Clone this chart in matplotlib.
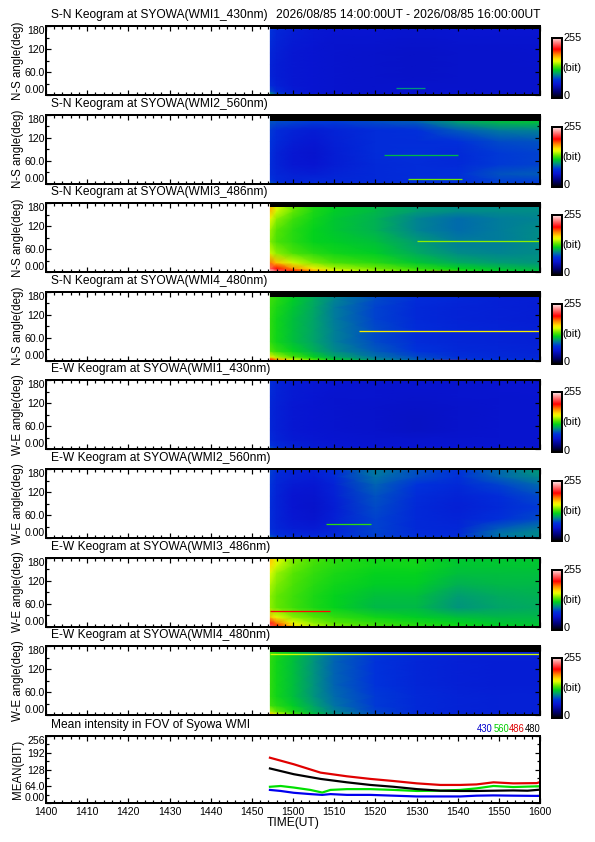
import numpy as np
import matplotlib
matplotlib.use("Agg")
import matplotlib.pyplot as plt
from matplotlib.colors import LinearSegmentedColormap, Normalize
from matplotlib.ticker import FixedLocator, MultipleLocator

plt.rcParams['font.family'] = ['Liberation Sans', 'DejaVu Sans']

# ---------------- data ----------------
header_right = "2026/08/85 14:00:00UT - 2026/08/85 16:00:00UT"
panel_titles = [
    "S-N Keogram at SYOWA(WMI1_430nm)",
    "S-N Keogram at SYOWA(WMI2_560nm)",
    "S-N Keogram at SYOWA(WMI3_486nm)",
    "S-N Keogram at SYOWA(WMI4_480nm)",
    "E-W Keogram at SYOWA(WMI1_430nm)",
    "E-W Keogram at SYOWA(WMI2_560nm)",
    "E-W Keogram at SYOWA(WMI3_486nm)",
    "E-W Keogram at SYOWA(WMI4_480nm)",
]
ylabels = ["N-S angle(deg)"] * 4 + ["W-E angle(deg)"] * 4

# keogram nodes: minutes after 14:00 UT, angle in degrees
t_nodes = [54.5, 56, 60, 65, 70, 80, 90, 100, 110, 120]
a_nodes = [0, 4, 10, 25, 50, 80, 110, 140, 160, 180]

keo_sn430 = [
    [115, 88, 68, 60, 58, 56, 56, 58, 56, 56],
    [100, 78, 64, 58, 56, 55, 55, 56, 55, 55],
    [82, 70, 60, 56, 55, 54, 54, 55, 54, 54],
    [70, 64, 58, 56, 55, 54, 54, 54, 54, 54],
    [66, 62, 58, 56, 55, 54, 53, 54, 54, 54],
    [66, 62, 58, 56, 55, 54, 53, 54, 54, 55],
    [68, 64, 58, 56, 55, 54, 53, 54, 54, 55],
    [72, 66, 60, 57, 55, 55, 54, 55, 55, 55],
    [75, 68, 62, 58, 56, 56, 55, 56, 56, 56],
    [75, 68, 62, 58, 56, 56, 55, 56, 56, 56],
]
keo_sn560 = [
    [88, 78, 72, 72, 72, 75, 80, 76, 82, 80],
    [82, 74, 68, 70, 70, 72, 75, 74, 80, 78],
    [76, 70, 66, 68, 68, 70, 72, 72, 80, 80],
    [72, 68, 64, 62, 66, 70, 72, 74, 84, 86],
    [72, 66, 58, 56, 62, 70, 72, 70, 78, 80],
    [74, 66, 58, 55, 62, 72, 74, 70, 78, 80],
    [76, 70, 62, 58, 64, 72, 72, 74, 82, 84],
    [78, 72, 66, 62, 66, 72, 74, 86, 94, 96],
    [84, 82, 80, 78, 78, 82, 86, 102, 110, 112],
    [84, 82, 80, 78, 78, 82, 86, 102, 110, 112],
]
keo_sn486 = [
    [250, 240, 220, 190, 165, 150, 140, 130, 120, 115],
    [245, 225, 200, 175, 155, 142, 132, 124, 116, 112],
    [225, 205, 180, 160, 145, 136, 126, 118, 112, 108],
    [185, 170, 150, 138, 130, 124, 114, 106, 102, 100],
    [150, 140, 130, 124, 120, 116, 106, 98, 96, 98],
    [138, 130, 124, 118, 116, 112, 102, 94, 94, 98],
    [142, 132, 124, 118, 114, 108, 96, 90, 94, 98],
    [155, 140, 128, 120, 114, 108, 96, 90, 94, 96],
    [172, 150, 134, 122, 116, 110, 102, 98, 98, 98],
    [175, 152, 134, 122, 116, 110, 102, 98, 98, 98],
]
keo_sn480 = [
    [235, 210, 180, 150, 130, 108, 92, 82, 78, 76],
    [200, 175, 150, 130, 115, 98, 86, 78, 74, 72],
    [160, 145, 130, 118, 106, 92, 82, 74, 70, 68],
    [132, 126, 118, 108, 98, 86, 76, 70, 68, 66],
    [125, 120, 112, 104, 95, 82, 72, 68, 66, 64],
    [125, 120, 112, 104, 95, 82, 72, 68, 66, 64],
    [125, 120, 112, 104, 94, 80, 70, 66, 64, 62],
    [126, 122, 114, 105, 94, 80, 70, 66, 64, 62],
    [128, 124, 116, 106, 96, 82, 72, 68, 64, 62],
    [128, 124, 116, 106, 96, 82, 72, 68, 64, 62],
]
keo_ew430 = [
    [95, 80, 70, 65, 62, 60, 60, 60, 60, 60],
    [85, 75, 66, 62, 60, 58, 58, 58, 58, 58],
    [75, 70, 64, 60, 58, 56, 56, 56, 56, 56],
    [70, 66, 60, 58, 56, 55, 55, 55, 55, 55],
    [68, 64, 58, 56, 55, 54, 52, 54, 55, 55],
    [68, 64, 58, 56, 55, 54, 52, 54, 55, 55],
    [68, 64, 58, 56, 55, 54, 53, 54, 55, 55],
    [70, 65, 60, 57, 55, 55, 54, 55, 55, 56],
    [72, 66, 60, 58, 56, 55, 55, 55, 56, 56],
    [72, 66, 60, 58, 56, 55, 55, 55, 56, 56],
]
keo_ew560 = [
    [92, 82, 76, 72, 75, 82, 78, 75, 88, 92],
    [86, 78, 72, 70, 72, 80, 75, 72, 90, 96],
    [78, 72, 68, 66, 70, 80, 72, 70, 92, 98],
    [72, 68, 62, 60, 66, 80, 70, 68, 86, 94],
    [72, 66, 58, 55, 64, 80, 70, 66, 74, 82],
    [72, 66, 56, 54, 62, 82, 70, 64, 70, 78],
    [74, 66, 56, 55, 64, 84, 72, 66, 72, 82],
    [76, 68, 60, 58, 66, 88, 76, 70, 80, 90],
    [78, 70, 64, 62, 70, 92, 82, 74, 88, 98],
    [80, 72, 66, 64, 72, 94, 84, 76, 90, 102],
]
keo_ew486 = [
    [225, 200, 165, 145, 136, 128, 124, 120, 116, 114],
    [222, 195, 162, 144, 136, 128, 124, 120, 116, 114],
    [210, 185, 155, 140, 132, 126, 122, 118, 114, 112],
    [170, 155, 140, 132, 126, 120, 116, 112, 110, 110],
    [140, 134, 128, 122, 118, 110, 110, 100, 104, 106],
    [140, 134, 128, 122, 118, 112, 112, 102, 106, 108],
    [145, 138, 130, 124, 120, 116, 116, 108, 110, 110],
    [152, 142, 132, 126, 122, 118, 118, 112, 112, 112],
    [165, 150, 136, 128, 124, 120, 120, 114, 114, 114],
    [172, 154, 138, 130, 124, 120, 120, 114, 114, 114],
]
keo_ew480 = [
    [185, 160, 135, 115, 100, 84, 74, 70, 68, 68],
    [170, 150, 130, 112, 98, 82, 72, 68, 66, 66],
    [145, 134, 122, 108, 96, 80, 70, 66, 64, 64],
    [128, 124, 116, 104, 92, 78, 70, 66, 64, 64],
    [125, 120, 112, 100, 90, 78, 70, 66, 64, 64],
    [125, 120, 112, 100, 88, 76, 68, 64, 62, 62],
    [125, 120, 112, 100, 88, 76, 68, 64, 62, 62],
    [125, 120, 112, 100, 88, 76, 68, 64, 62, 62],
    [127, 122, 114, 102, 90, 78, 70, 66, 64, 64],
    [127, 122, 114, 102, 90, 78, 70, 66, 64, 64],
]
keograms = [keo_sn430, keo_sn560, keo_sn486, keo_sn480,
            keo_ew430, keo_ew560, keo_ew486, keo_ew480]

# dark (no-data) band at the top of the field of view, degrees (None = none)
top_band = [171, 163, 171, 166, None, None, None, 166]

# narrow bright streaks: (panel, angle, t_start, t_end, value)
streaks = [
    (0, 18, 85, 92, 100),
    (1, 75, 82, 100, 110),
    (1, 12, 88, 101, 135),
    (2, 82, 90, 120, 140),
    (2, 3, 93, 100, 205),
    (3, 77, 76, 120, 160),
    (3, 3, 94, 103, 205),
    (5, 36, 68, 79, 125),
    (6, 41, 54.5, 69, 205),
    (7, 159, 54.5, 120, 150),
]

# mean intensity curves
mean_t_red = [54.4, 60.2, 66.7, 73.1, 78.8, 84.4, 90.1, 95.8, 100.6, 104.6, 108.7, 113.5, 119.2, 120]
mean_486 = [173, 148, 116, 102, 92, 84, 75, 69, 69, 71, 79, 75, 76, 80]
mean_t = [54.4, 60.2, 66.7, 73.1, 78.8, 84.4, 90.1, 95.8, 100.6, 104.6, 108.7, 113.5, 117.0, 120]
mean_480 = [132, 110, 92, 79, 69, 62, 53, 47, 46, 46, 47, 48, 47, 51]
mean_t_g = [54.4, 57.0, 60.2, 64.2, 67.1, 69.1, 73.1, 78.8, 84.4, 90.1, 95.8, 100.6, 104.6, 108.7, 113.5, 120]
mean_560 = [62, 65, 59, 50, 40, 50, 53, 53, 50, 46, 47, 50, 56, 65, 61, 64]
mean_430 = [50, 46, 39, 34, 31, 34, 31, 31, 28, 25, 25, 25, 28, 29, 28, 27]

xtick_labels = ["1400", "1410", "1420", "1430", "1440", "1450", "1500",
                "1510", "1520", "1530", "1540", "1550", "1600"]
xtick_pos = [0, 10, 20, 30, 40, 50, 60, 70, 80, 90, 100, 110, 120]

# ---------------- styling ----------------
cmap_nodes = [
    (0.00, (0.0, 0.0, 0.0)),
    (0.10, (0.0, 0.0, 0.45)),
    (0.22, (0.03, 0.08, 0.82)),
    (0.30, (0.0, 0.20, 0.86)),
    (0.36, (0.0, 0.45, 0.65)),
    (0.41, (0.0, 0.65, 0.40)),
    (0.46, (0.0, 0.82, 0.12)),
    (0.52, (0.35, 0.90, 0.0)),
    (0.60, (0.90, 1.0, 0.0)),
    (0.64, (1.0, 0.90, 0.0)),
    (0.72, (1.0, 0.50, 0.0)),
    (0.80, (1.0, 0.0, 0.0)),
    (0.90, (1.0, 0.45, 0.45)),
    (1.00, (1.0, 0.93, 0.93)),
]
cmap = LinearSegmentedColormap.from_list("idl_like", cmap_nodes)
norm = Normalize(0, 255)

W, H = 595, 842
fig = plt.figure(figsize=(W / 72, H / 72), dpi=72)
fig.patch.set_facecolor("white")

L, R = 46, 540
FS_T = 12
FS_Y = 11.5
FS_TICK = 10.5


def ax_rect(top, bottom, left=L, right=R):
    return [left / W, 1 - bottom / H, (right - left) / W, (bottom - top) / H]


def style_axes(ax):
    for s in ax.spines.values():
        s.set_linewidth(2.0)
        s.set_color("black")
    ax.tick_params(which="both", direction="in", top=True, right=True,
                   width=1.2, colors="black", labelsize=FS_TICK, pad=1)
    ax.tick_params(which="major", length=5)
    ax.tick_params(which="minor", length=3)
    ax.xaxis.set_major_locator(FixedLocator(xtick_pos))
    ax.xaxis.set_minor_locator(MultipleLocator(2))


def pull_end_labels(ax):
    labs = ax.get_yticklabels()
    labs[0].set_va("bottom")
    labs[-1].set_va("top")


def panel_title(ax, text, ha="left", x=0.01, dy=5):
    ax.annotate(text, xy=(x, 1.0), xycoords="axes fraction",
                xytext=(0, dy), textcoords="offset pixels",
                fontsize=FS_T, ha=ha, va="bottom")


T = np.array(t_nodes)
A = np.array(a_nodes)
TT, AA = np.meshgrid(T, A)

for i in range(8):
    top = 26 + 88.6 * i
    bottom = top + 69
    ax = fig.add_axes(ax_rect(top, bottom))
    C = np.array(keograms[i], dtype=float)
    ax.pcolormesh(TT, AA, C, shading="gouraud", cmap=cmap, norm=norm)
    for (p, ang, t0, t1, v) in streaks:
        if p == i:
            ax.hlines(ang, t0, t1, colors=[cmap(norm(v))], linewidth=1.3)
    if top_band[i] is not None:
        ax.fill_between([T[0], 120], top_band[i], 180, color="black", linewidth=0)
    ax.set_xlim(0, 120)
    ax.set_ylim(0, 180)
    style_axes(ax)
    ax.set_yticks([0, 60, 120, 180])
    ax.set_yticklabels(["0.00", "60.0", "120", "180"])
    pull_end_labels(ax)
    ax.yaxis.set_minor_locator(MultipleLocator(30))
    ax.set_xticklabels([])
    ax.set_ylabel(ylabels[i], fontsize=FS_Y, labelpad=1)
    panel_title(ax, panel_titles[i])
    if i == 0:
        panel_title(ax, header_right, ha="right", x=1.0)
    # colorbar
    cax = fig.add_axes(ax_rect(top + 12, top + 72, 552, 562))
    grad = np.linspace(0, 255, 256).reshape(-1, 1)
    cax.imshow(grad, aspect="auto", origin="lower", cmap=cmap, norm=norm,
               extent=[0, 1, 0, 255])
    cax.set_xticks([])
    cax.set_yticks([])
    for s in cax.spines.values():
        s.set_linewidth(2.0)
    cax.text(1.15, 1.0, "255", transform=cax.transAxes, fontsize=FS_TICK + 0.5,
             ha="left", va="center")
    cax.text(1.08, 0.5, "(bit)", transform=cax.transAxes, fontsize=FS_TICK + 0.5,
             ha="left", va="center")
    cax.text(1.15, 0.03, "0", transform=cax.transAxes, fontsize=FS_TICK + 0.5,
             ha="left", va="center")

# mean intensity panel
ax = fig.add_axes(ax_rect(736, 803))
ax.plot(mean_t_g, mean_430, color="#0000ee", linewidth=2.2)
ax.plot(mean_t_g, mean_560, color="#00e000", linewidth=2.2)
ax.plot(mean_t_red, mean_486, color="#e00000", linewidth=2.2)
ax.plot(mean_t, mean_480, color="black", linewidth=2.2)
ax.set_xlim(0, 120)
ax.set_ylim(0, 256)
style_axes(ax)
ax.set_yticks([0, 64, 128, 192, 256])
ax.set_yticklabels(["0.00", "64.0", "128", "192", "256"])
pull_end_labels(ax)
ax.yaxis.set_minor_locator(MultipleLocator(32))
ax.set_xticklabels(xtick_labels)
ax.tick_params(axis="x", pad=4)
ax.set_xlabel("TIME(UT)", fontsize=FS_T, labelpad=0)
ax.set_ylabel("MEAN(BIT)", fontsize=FS_Y, labelpad=1)
panel_title(ax, "Mean intensity in FOV of Syowa WMI", dy=5)
legend_items = [("430", "#0000cc", 493), ("560", "#00cc00", 509),
                ("486", "#dd0000", 525), ("480", "black", 541)]
for lab, col, xr in legend_items:
    fig.text(xr / W, 1 - 734 / H, lab, color=col, fontsize=9.5,
             ha="right", va="bottom")

fig.savefig("out.png", dpi=72, facecolor="white")
